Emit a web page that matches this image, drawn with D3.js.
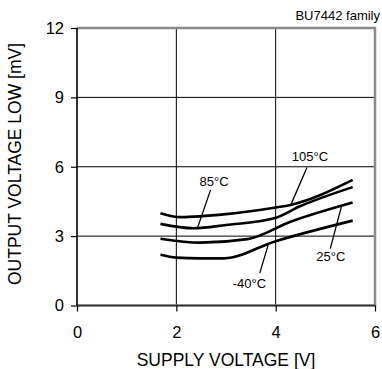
<!DOCTYPE html>
<html><head><meta charset="utf-8">
<script src="https://cdn.jsdelivr.net/npm/d3@7/dist/d3.min.js"></script>
<style>body{margin:0;background:#fff}svg{display:block}text{font-family:Arial,"Liberation Sans",sans-serif}</style>
</head><body><div id="chart"></div>
<script>
const xTicks = [0, 2, 4, 6];
const yTicks = [0, 3, 6, 9, 12];
const seriesNames = ["105°C", "85°C", "25°C", "-40°C"];
const s105 = [[1.68, 3.99], [2.08, 3.82], [3.0, 3.95], [3.97, 4.23], [4.3, 4.35], [5.55, 5.43]];
const s85 = [[1.68, 3.53], [2.35, 3.34], [3.0, 3.48], [3.97, 3.77], [4.5, 4.3], [5.55, 5.12]];
const s25 = [[1.68, 2.89], [2.48, 2.72], [3.43, 2.87], [4.3, 3.62], [5.55, 4.45]];
const sM40 = [[1.68, 2.19], [2.0, 2.07], [2.48, 2.04], [2.96, 2.04], [3.97, 2.76], [5.55, 3.67]];
// label positions (data units) and leader line endpoints
const labelPos = [[4.69, 6.26], [2.76, 5.18], [5.11, 1.94], [3.47, 0.76]];
const leaderFrom = [[4.63, 5.97], [2.69, 5.0], [5.1, 2.46], [3.68, 1.4]];
const leaderTo = [[4.3, 4.33], [2.43, 3.38], [5.33, 4.33], [3.86, 2.7]];

const W = 382, H = 369;
const m = {l: 77, r: 7, t: 28, b: 63.5};
const svg = d3.select("#chart").append("svg").attr("width", W).attr("height", H);
const x = d3.scaleLinear().domain([0, 6]).range([m.l, W - m.r]);
const y = d3.scaleLinear().domain([0, 12]).range([H - m.b, m.t]);

// grid
svg.append("g").selectAll("line").data([2, 4]).join("line")
  .attr("x1", d => x(d)).attr("x2", d => x(d)).attr("y1", y(0)).attr("y2", y(12))
  .attr("stroke", "#000").attr("stroke-width", 1);
svg.append("g").selectAll("line").data([3, 6, 9]).join("line")
  .attr("y1", d => y(d)).attr("y2", d => y(d)).attr("x1", x(0)).attr("x2", x(6))
  .attr("stroke", "#000").attr("stroke-width", 1);
// frame (gray top/right/bottom)
svg.append("path").attr("d", `M${x(0)},${y(12)}H${x(6)}V${y(0)}H${x(0)}`)
  .attr("fill", "none").attr("stroke", "#8a8a8a").attr("stroke-width", 2.5);

// axes
const fmt = d3.format("d");
const xAxis = svg.append("g").attr("transform", `translate(0,${y(0)})`)
  .call(d3.axisBottom(x).tickValues(xTicks).tickFormat(fmt).tickSize(6).tickPadding(15));
const yAxis = svg.append("g").attr("transform", `translate(${x(0)},0)`)
  .call(d3.axisLeft(y).tickValues(yTicks).tickFormat(fmt).tickSize(6).tickPadding(7));
[xAxis, yAxis].forEach(a => {
  a.select(".domain").attr("stroke", "#000").attr("stroke-width", 1.6);
  a.selectAll(".tick line").attr("stroke", "#000").attr("stroke-width", 1.2);
  a.selectAll(".tick text").attr("font-size", 16.5).attr("fill", "#000")
   .attr("font-family", "Arial, 'Liberation Sans', sans-serif");
});
xAxis.select(".domain").attr("stroke", "#333").attr("d", `M${x(0)},0H${x(6)}`);
yAxis.select(".domain").attr("d", `M0,${y(0)}V${y(12)}`);

// curves
const line = d3.line().x(d => x(d[0])).y(d => y(d[1])).curve(d3.curveMonotoneX);
[s105, s85, s25, sM40].forEach(s => {
  svg.append("path").datum(s).attr("d", line).attr("fill", "none")
    .attr("stroke", "#000").attr("stroke-width", 2.6);
});
// leaders and labels
seriesNames.forEach((n, i) => {
  svg.append("line").attr("x1", x(leaderFrom[i][0])).attr("y1", y(leaderFrom[i][1]))
    .attr("x2", x(leaderTo[i][0])).attr("y2", y(leaderTo[i][1]))
    .attr("stroke", "#000").attr("stroke-width", 1.3);
  svg.append("text").attr("x", x(labelPos[i][0])).attr("y", y(labelPos[i][1]))
    .attr("text-anchor", "middle").attr("font-size", 13).text(n);
});

// titles
svg.append("text").attr("x", 380).attr("y", 20).attr("text-anchor", "end")
  .attr("font-size", 13).text("BU7442 family");
svg.append("text").attr("x", 226).attr("y", 366).attr("text-anchor", "middle")
  .attr("font-size", 17.5).text("SUPPLY VOLTAGE [V]");
svg.append("text").attr("transform", `translate(21,164) rotate(-90)`)
  .attr("text-anchor", "middle").attr("font-size", 17.5).text("OUTPUT VOLTAGE LOW [mV]");
</script></body></html>
